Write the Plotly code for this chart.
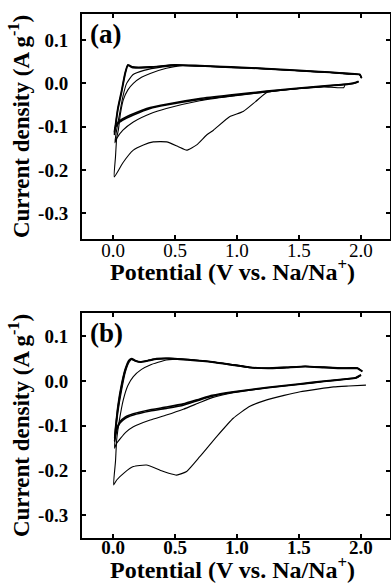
import plotly.graph_objects as go
from plotly.subplots import make_subplots

# ---------------- Panel (a) data ----------------
a_c1_E = [1.87, 1.86, 1.70, 1.50, 1.35, 1.24, 1.15, 1.05, 0.94, 0.81, 0.755, 0.675, 0.594, 0.527,
          0.433, 0.325, 0.245, 0.164, 0.08, 0.01,
          0.02, 0.03, 0.043, 0.06, 0.083, 0.12, 0.164, 0.23, 0.30, 0.43, 0.55, 0.70, 0.95, 1.2,
          1.5, 1.75, 1.9, 1.99, 2.005]
a_c1_I = [-0.004, -0.010, -0.008, -0.012, -0.016, -0.021, -0.042, -0.065, -0.077, -0.108, -0.119,
          -0.142, -0.154, -0.146, -0.135, -0.135, -0.142, -0.154, -0.183, -0.216,
          -0.17, -0.125, -0.108, -0.07, -0.038, -0.015, 0.0, 0.014, 0.023, 0.035, 0.041, 0.040,
          0.037, 0.034, 0.029, 0.025, 0.022, 0.020, 0.012]

a_c2_E = [1.98, 1.94, 1.86, 1.78, 1.5, 1.24, 0.94, 0.70, 0.43, 0.30, 0.164, 0.08, 0.03, 0.015,
          0.025, 0.05, 0.08, 0.11, 0.16, 0.25, 0.40, 0.50, 0.70, 0.95, 1.2, 1.5, 1.75, 1.9, 1.99, 2.005]
a_c2_I = [0.004, 0.0, -0.003, -0.005, -0.012, -0.020, -0.030, -0.040, -0.058, -0.070, -0.089,
          -0.108, -0.127, -0.137,
          -0.115, -0.075, -0.030, 0.0, 0.020, 0.030, 0.038, 0.041, 0.040, 0.037, 0.034, 0.029,
          0.025, 0.022, 0.020, 0.012]

a_c3_E = [1.98, 1.94, 1.86, 1.78, 1.5, 1.24, 0.94, 0.70, 0.43, 0.30, 0.164, 0.11, 0.056, 0.03,
          0.016, 0.012, 0.02, 0.04, 0.07, 0.097, 0.12, 0.16, 0.30, 0.50, 0.70, 0.95, 1.2, 1.5, 1.75,
          1.9, 1.99, 2.005]
a_c3_I = [0.004, 0.0, -0.003, -0.005, -0.012, -0.019, -0.029, -0.037, -0.050, -0.058, -0.073,
          -0.080, -0.089, -0.097, -0.104, -0.118,
          -0.100, -0.060, -0.020, 0.020, 0.041, 0.036, 0.037, 0.042, 0.040, 0.037, 0.034, 0.029,
          0.025, 0.022, 0.020, 0.012]

a_c4_E = [1.98, 1.94, 1.86, 1.78, 1.5, 1.24, 0.94, 0.70, 0.43, 0.30, 0.164, 0.11, 0.056, 0.03,
          0.016, 0.012, 0.02, 0.04, 0.07, 0.097, 0.12, 0.16, 0.30, 0.50, 0.70, 0.95, 1.2, 1.5, 1.75,
          1.9, 1.99, 2.005]
a_c4_I = [0.005, 0.001, -0.002, -0.004, -0.011, -0.018, -0.027, -0.035, -0.048, -0.056, -0.070,
          -0.077, -0.086, -0.094, -0.101, -0.112,
          -0.095, -0.055, -0.015, 0.024, 0.043, 0.038, 0.038, 0.043, 0.041, 0.038, 0.035, 0.030,
          0.026, 0.023, 0.021, 0.013]

# ---------------- Panel (b) data ----------------
b_c1_E = [2.04, 1.90, 1.78, 1.65, 1.51, 1.38, 1.24, 1.10, 0.97, 0.836, 0.70, 0.594, 0.514, 0.45,
          0.38, 0.27, 0.164, 0.09, 0.03, 0.005,
          0.02, 0.03, 0.05, 0.083, 0.12, 0.164, 0.23, 0.30, 0.43, 0.55, 0.70, 0.85, 1.0, 1.1, 1.25,
          1.4, 1.55, 1.7, 1.85, 1.97, 2.01]
b_c1_I = [-0.009, -0.011, -0.013, -0.018, -0.024, -0.032, -0.042, -0.057, -0.083, -0.124, -0.169,
          -0.202, -0.210, -0.206, -0.199, -0.1875, -0.191, -0.205, -0.221, -0.232,
          -0.18, -0.13, -0.09, -0.042, -0.010, 0.010, 0.026, 0.036, 0.047, 0.049, 0.046, 0.041,
          0.036, 0.031, 0.028, 0.030, 0.033, 0.031, 0.029, 0.029, 0.022]

b_c2_E = [2.0, 1.96, 1.88, 1.7, 1.51, 1.25, 0.97, 0.80, 0.70, 0.567, 0.43, 0.30, 0.164, 0.10,
          0.03, 0.012,
          0.02, 0.04, 0.07, 0.10, 0.13, 0.15, 0.18, 0.22, 0.28, 0.35, 0.45, 0.6, 0.8, 0.95, 1.1,
          1.25, 1.4, 1.55, 1.7, 1.85, 1.97, 2.01]
b_c2_I = [0.013, 0.007, 0.004, -0.001, -0.007, -0.015, -0.026, -0.037, -0.048, -0.063, -0.076,
          -0.087, -0.102, -0.115, -0.139, -0.150,
          -0.12, -0.07, -0.02, 0.020, 0.042, 0.048, 0.045, 0.043, 0.046, 0.050, 0.051, 0.048,
          0.043, 0.037, 0.031, 0.029, 0.031, 0.033, 0.031, 0.029, 0.029, 0.022]

b_c3_E = [2.0, 1.96, 1.88, 1.7, 1.51, 1.25, 0.97, 0.80, 0.70, 0.567, 0.43, 0.30, 0.164, 0.10,
          0.056, 0.03, 0.012,
          0.02, 0.04, 0.07, 0.10, 0.13, 0.15, 0.18, 0.22, 0.28, 0.35, 0.45, 0.6, 0.8, 0.95, 1.1,
          1.25, 1.4, 1.55, 1.7, 1.85, 1.97, 2.01]
b_c3_I = [0.013, 0.007, 0.004, -0.001, -0.007, -0.015, -0.025, -0.034, -0.042, -0.054, -0.061,
          -0.067, -0.076, -0.083, -0.094, -0.110, -0.135,
          -0.11, -0.06, -0.01, 0.025, 0.045, 0.050, 0.046, 0.043, 0.046, 0.050, 0.051, 0.048,
          0.043, 0.037, 0.031, 0.029, 0.031, 0.033, 0.031, 0.029, 0.029, 0.022]

b_c4_E = [2.0, 1.96, 1.88, 1.7, 1.51, 1.25, 0.97, 0.80, 0.70, 0.567, 0.43, 0.30, 0.164, 0.10,
          0.056, 0.03, 0.012,
          0.02, 0.04, 0.07, 0.10, 0.13, 0.15, 0.18, 0.22, 0.28, 0.35, 0.45, 0.6, 0.8, 0.95, 1.1,
          1.25, 1.4, 1.55, 1.7, 1.85, 1.97, 2.01]
b_c4_I = [0.014, 0.008, 0.005, 0.0, -0.006, -0.014, -0.024, -0.032, -0.040, -0.051, -0.058,
          -0.064, -0.073, -0.080, -0.091, -0.106, -0.128,
          -0.105, -0.055, -0.006, 0.028, 0.047, 0.049, 0.045, 0.042, 0.045, 0.049, 0.050, 0.047,
          0.042, 0.036, 0.030, 0.028, 0.030, 0.032, 0.030, 0.028, 0.028, 0.021]

x_tickvals = [0.0, 0.5, 1.0, 1.5, 2.0]
x_ticktext = ["0.0", "0.5", "1.0", "1.5", "2.0"]
y_tickvals = [-0.3, -0.2, -0.1, 0.0, 0.1]
y_ticktext = ["-0.3", "-0.2", "-0.1", "0.0", "0.1"]
panel_labels = ["(a)", "(b)"]
x_title = "Potential (V vs. Na/Na<sup>+</sup>)"
y_title = "Current density (A g<sup>-1</sup>)"

FONT = "Liberation Serif"

fig = make_subplots(rows=2, cols=1, vertical_spacing=0.1412)

def add(E, I, row, w):
    fig.add_trace(go.Scatter(x=E, y=I, mode="lines",
                             line=dict(color="black", width=w, shape="spline", smoothing=0.45),
                             showlegend=False, hoverinfo="skip"), row=row, col=1)

add(a_c1_E, a_c1_I, 1, 1.1)
add(a_c2_E, a_c2_I, 1, 1.1)
add(a_c3_E, a_c3_I, 1, 1.6)
add(a_c4_E, a_c4_I, 1, 1.6)
add(b_c1_E, b_c1_I, 2, 1.1)
add(b_c2_E, b_c2_I, 2, 1.1)
add(b_c3_E, b_c3_I, 2, 1.6)
add(b_c4_E, b_c4_I, 2, 1.6)

common_ax = dict(showline=True, linecolor="black", linewidth=2, mirror="ticks",
                 ticks="inside", ticklen=4, tickwidth=1.5, tickcolor="black",
                 showgrid=False, zeroline=False, automargin=False)

for r, xbold, stand in [(1, False, -7), (2, True, -9)]:
    fig.update_xaxes(range=[-0.25, 2.234], tickvals=x_tickvals, ticktext=x_ticktext,
                     tickfont=dict(family=FONT, size=19, color="black",
                                   weight="bold" if xbold else "normal"),
                     ticklabelstandoff=stand,
                     row=r, col=1, **common_ax)

fig.update_yaxes(range=[-0.359, 0.160], row=1, col=1)
fig.update_yaxes(range=[-0.3505, 0.152], row=2, col=1)
fig.update_yaxes(tickvals=y_tickvals, ticktext=y_ticktext,
                 tickfont=dict(family=FONT, size=19, color="black", weight="bold"),
                 title=dict(text="<b>" + y_title + "</b>",
                            font=dict(family=FONT, size=23, color="black"), standoff=2),
                 ticklabelstandoff=8, **common_ax)

fig.update_layout(width=391, height=585, margin=dict(l=82, r=1, t=14, b=47),
                  plot_bgcolor="white", paper_bgcolor="white",
                  font=dict(family=FONT, color="black"))
fig.update_layout(yaxis=dict(domain=[0.5706, 1.0]), yaxis2=dict(domain=[0.0, 0.4294]))

# x-axis titles as annotations (placed just under each panel's tick labels)
for yp in [0.5105, -0.0575]:
    fig.add_annotation(text="<b>" + x_title + "</b>", xref="paper", yref="paper",
                       x=0.49, y=yp, xanchor="center", yanchor="middle", showarrow=False,
                       font=dict(family=FONT, size=24, color="black"))

fig.add_annotation(text="<b>" + panel_labels[0] + "</b>", xref="x domain", yref="y domain",
                   x=0.02, y=0.985, xanchor="left", yanchor="top", showarrow=False,
                   font=dict(family=FONT, size=27, color="black"))
fig.add_annotation(text="<b>" + panel_labels[1] + "</b>", xref="x2 domain", yref="y2 domain",
                   x=0.02, y=0.985, xanchor="left", yanchor="top", showarrow=False,
                   font=dict(family=FONT, size=27, color="black"))

fig.write_html("out.html", config={"displayModeBar": False},
               post_script="document.body.style.margin='0';")
